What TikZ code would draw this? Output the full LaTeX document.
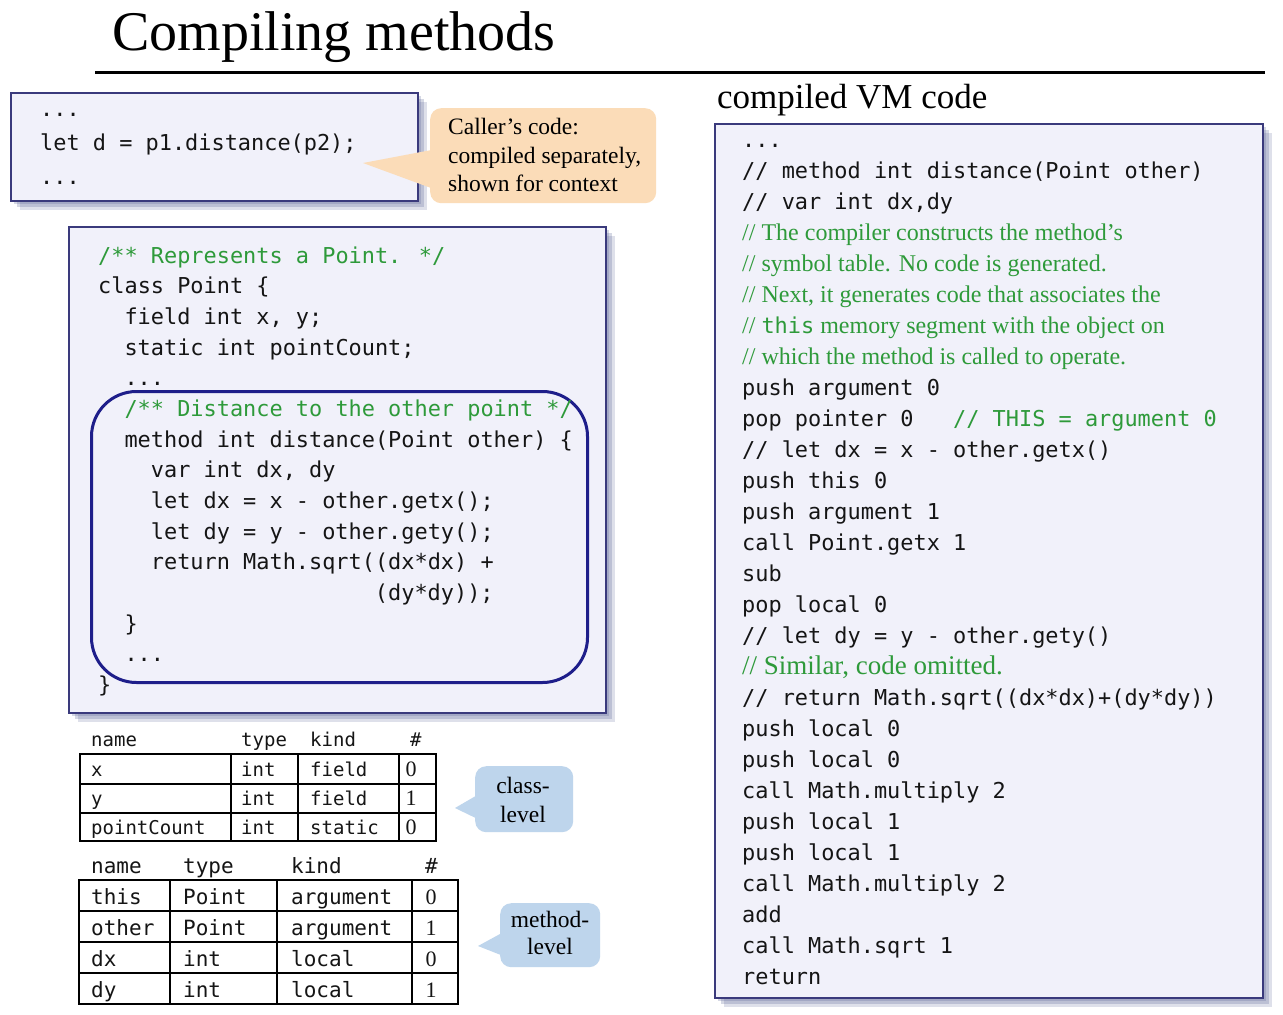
\documentclass[tikz,border=0pt]{standalone}
\usepackage{fontspec}
\setmainfont{Liberation Serif}
\newfontfamily\codefont{DejaVu Sans Mono}
\usetikzlibrary{shadows}
\definecolor{boxfill}{HTML}{F1F1FA}
\definecolor{boxdraw}{HTML}{3A3A7C}
\definecolor{shcol}{HTML}{5A6496}
\definecolor{cmtgreen}{HTML}{2E9A3A}
\definecolor{navyline}{HTML}{1E1E8A}
\definecolor{peach}{HTML}{FBDCB8}
\definecolor{callblue}{HTML}{BED5EC}
\definecolor{codeblack}{HTML}{151515}
\newcommand\cf{\codefont\fontsize{21.9}{26}\selectfont}
\newcommand\vmline[3]{\node[codetxt] (#1) at (742,{147+31*#2}) {#3};}
\newcommand\vmcmtline[3]{\node[vmcmt] (#1) at (742,{147+31*#2}) {#3};}
\newcommand\clline[4]{\node[#1] (#2) at ({98+13.18*#3},{263.3+30.65*#4})}
\begin{document}
\begin{tikzpicture}[x=1pt,y=-1pt,
  codebox/.style={draw=boxdraw, fill=boxfill, line width=1.5pt, anchor=north west, inner sep=0pt,
    drop shadow={shadow xshift=3pt,shadow yshift=-3pt,fill=shcol,opacity=.25},
    drop shadow={shadow xshift=6pt,shadow yshift=-6pt,fill=shcol,opacity=.25},
    drop shadow={shadow xshift=9pt,shadow yshift=-9pt,fill=shcol,opacity=.2}},
  codetxt/.style={font=\cf, text=codeblack, anchor=base west, inner sep=0pt},
  greencode/.style={codetxt, text=cmtgreen},
  vmcmt/.style={font=\fontsize{24}{28}\selectfont, text=cmtgreen, anchor=base west, inner sep=0pt},
  tbla/.style={font=\codefont\fontsize{19}{22}\selectfont, text=codeblack, anchor=base west, inner sep=0pt},
  tblb/.style={font=\codefont\fontsize{21}{24}\selectfont, text=codeblack, anchor=base west, inner sep=0pt},
  tnum/.style={font=\fontsize{22}{26}\selectfont, text=codeblack, anchor=base, inner sep=0pt},
  tline/.style={line width=1.6pt, draw=black},
  callout/.style={rounded corners=11pt, inner sep=0pt, anchor=north west},
  cotext/.style={font=\fontsize{23.5}{28}\selectfont, text=black, inner sep=0pt},
  titletxt/.style={font=\fontsize{56}{60}\selectfont, anchor=base west, inner sep=0pt}
]
\useasboundingbox (0,0) rectangle (1283,1015);
\fill[white] (0,0) rectangle (1283,1015);

% title
\node[titletxt] (title) at (112,50) {Compiling methods};
\coordinate (ruleL) at (95,72);
\coordinate (ruleR) at (1265,72);
\draw[line width=3pt] (ruleL) -- (ruleR);
\node[font=\fontsize{35}{40}\selectfont, anchor=base west, inner sep=0pt] (vmtitle) at (717,108) {compiled VM code};

% caller box
\node[codebox, minimum width=407, minimum height=108] (caller) at (10,92) {};
\node[codetxt] (c0) at (40,116) {...};
\node[codetxt] (c1) at (40,150) {let d = p1.distance(p2);};
\node[codetxt] (c2) at (40,184) {...};

% orange callout
\node[callout, fill=peach, minimum width=226, minimum height=95] (callerco) at (430,108) {};
\coordinate (ctip) at (363,163);
\fill[peach] (ctip) -- (442,148) -- (442,192) -- cycle;
\node[cotext, anchor=base west] (co1) at (448,134) {Caller’s code:};
\node[cotext, anchor=base west] (co2) at (448,163) {compiled separately,};
\node[cotext, anchor=base west] (co3) at (448,191) {shown for context};

% class box
\node[codebox, minimum width=537, minimum height=486] (classbox) at (68,226) {};
\node[draw=navyline, line width=3pt, rounded corners=45pt, minimum width=496, minimum height=291, anchor=north west, inner sep=0pt] (methbox) at (90,390) {};
\clline{greencode}{k0}{0}{0} {/** Represents a Point. */};
\clline{codetxt}{k1}{0}{1} {class Point \{};
\clline{codetxt}{k2}{2}{2} {field int x, y;};
\clline{codetxt}{k3}{2}{3} {static int pointCount;};
\clline{codetxt}{k4}{2}{4} {...};
\clline{greencode}{k5}{2}{5} {/** Distance to the other point */};
\clline{codetxt}{k6}{2}{6} {method int distance(Point other) \{};
\clline{codetxt}{k7}{4}{7} {var int dx, dy};
\clline{codetxt}{k8}{4}{8} {let dx = x - other.getx();};
\clline{codetxt}{k9}{4}{9} {let dy = y - other.gety();};
\clline{codetxt}{k10}{4}{10} {return Math.sqrt((dx*dx) +};
\clline{codetxt}{k11}{21}{11} {(dy*dy));};
\clline{codetxt}{k12}{2}{12} {\}};
\clline{codetxt}{k13}{2}{13} {...};
\clline{codetxt}{k14}{0}{14} {\}};

% class-level table
\node[tbla] (ah1) at (91,746) {name};
\node[tbla] (ah2) at (241,746) {type};
\node[tbla] (ah3) at (310,746) {kind};
\node[tbla] (ah4) at (410,746) {\#};
\draw[tline] (80,754) rectangle (436,841);
\draw[tline] (80,784) -- (436,784);
\draw[tline] (80,813) -- (436,813);
\draw[tline] (231,754) -- (231,841);
\draw[tline] (298,754) -- (298,841);
\draw[tline] (399,754) -- (399,841);
\node[tbla] (a11) at (91,776) {x};
\node[tbla] (a12) at (241,776) {int};
\node[tbla] (a13) at (310,776) {field};
\node[tnum] (a14) at (411,776) {0};
\node[tbla] (a21) at (91,805) {y};
\node[tbla] (a22) at (241,805) {int};
\node[tbla] (a23) at (310,805) {field};
\node[tnum] (a24) at (411,805) {1};
\node[tbla] (a31) at (91,834) {pointCount};
\node[tbla] (a32) at (241,834) {int};
\node[tbla] (a33) at (310,834) {static};
\node[tnum] (a34) at (411,834) {0};

% method-level table
\node[tblb] (bh1) at (91,873) {name};
\node[tblb] (bh2) at (183,873) {type};
\node[tblb] (bh3) at (291,873) {kind};
\node[tblb] (bh4) at (425,873) {\#};
\draw[tline] (79,880) rectangle (458,1004);
\draw[tline] (79,911) -- (458,911);
\draw[tline] (79,942) -- (458,942);
\draw[tline] (79,973) -- (458,973);
\draw[tline] (170,880) -- (170,1004);
\draw[tline] (277,880) -- (277,1004);
\draw[tline] (412,880) -- (412,1004);
\node[tblb] (b11) at (91,904) {this};
\node[tblb] (b12) at (183,904) {Point};
\node[tblb] (b13) at (291,904) {argument};
\node[tnum] (b14) at (431,904) {0};
\node[tblb] (b21) at (91,935) {other};
\node[tblb] (b22) at (183,935) {Point};
\node[tblb] (b23) at (291,935) {argument};
\node[tnum] (b24) at (431,935) {1};
\node[tblb] (b31) at (91,966) {dx};
\node[tblb] (b32) at (183,966) {int};
\node[tblb] (b33) at (291,966) {local};
\node[tnum] (b34) at (431,966) {0};
\node[tblb] (b41) at (91,997) {dy};
\node[tblb] (b42) at (183,997) {int};
\node[tblb] (b43) at (291,997) {local};
\node[tnum] (b44) at (431,997) {1};

% blue callouts
\node[callout, fill=callblue, minimum width=98, minimum height=66] (classco) at (475,766) {};
\coordinate (atip) at (455,808);
\fill[callblue] (atip) -- (486,790) -- (486,823) -- cycle;
\node[cotext, anchor=base] (cl1) at (523,793) {class-};
\node[cotext, anchor=base] (cl2) at (523,822) {level};
\node[callout, fill=callblue, minimum width=100, minimum height=64] (methco) at (500,903) {};
\coordinate (btip) at (478,946);
\fill[callblue] (btip) -- (511,928) -- (511,959) -- cycle;
\node[cotext, anchor=base] (ml1) at (550,927) {method-};
\node[cotext, anchor=base] (ml2) at (550,954) {level};

% VM code box
\node[codebox, minimum width=548, minimum height=874] (vmbox) at (714,123) {};
\vmline{v0}{0}{...}
\vmline{v1}{1}{// method int distance(Point other)}
\vmline{v2}{2}{// var int dx,dy}
\vmcmtline{v3}{3}{// The compiler constructs the method’s}
\vmcmtline{v4}{4}{// symbol table. No code is generated.}
\vmcmtline{v5}{5}{// Next, it generates code that associates the}
\vmcmtline{v6}{6}{// {\cf this} memory segment with the object on}
\vmcmtline{v7}{7}{// which the method is called to operate.}
\vmline{v8}{8}{push argument 0}
\vmline{v9}{9}{pop pointer 0~~~\textcolor{cmtgreen}{// THIS = argument 0}}
\vmline{v10}{10}{// let dx = x - other.getx()}
\vmline{v11}{11}{push this 0}
\vmline{v12}{12}{push argument 1}
\vmline{v13}{13}{call Point.getx 1}
\vmline{v14}{14}{sub}
\vmline{v15}{15}{pop local 0}
\vmline{v16}{16}{// let dy = y - other.gety()}
\node[vmcmt, font=\fontsize{27}{30}\selectfont] (v17) at (742,{147+31*17}) {// Similar, code omitted.};
\vmline{v18}{18}{// return Math.sqrt((dx*dx)+(dy*dy))}
\vmline{v19}{19}{push local 0}
\vmline{v20}{20}{push local 0}
\vmline{v21}{21}{call Math.multiply 2}
\vmline{v22}{22}{push local 1}
\vmline{v23}{23}{push local 1}
\vmline{v24}{24}{call Math.multiply 2}
\vmline{v25}{25}{add}
\vmline{v26}{26}{call Math.sqrt 1}
\vmline{v27}{27}{return}
\end{tikzpicture}
\end{document}
